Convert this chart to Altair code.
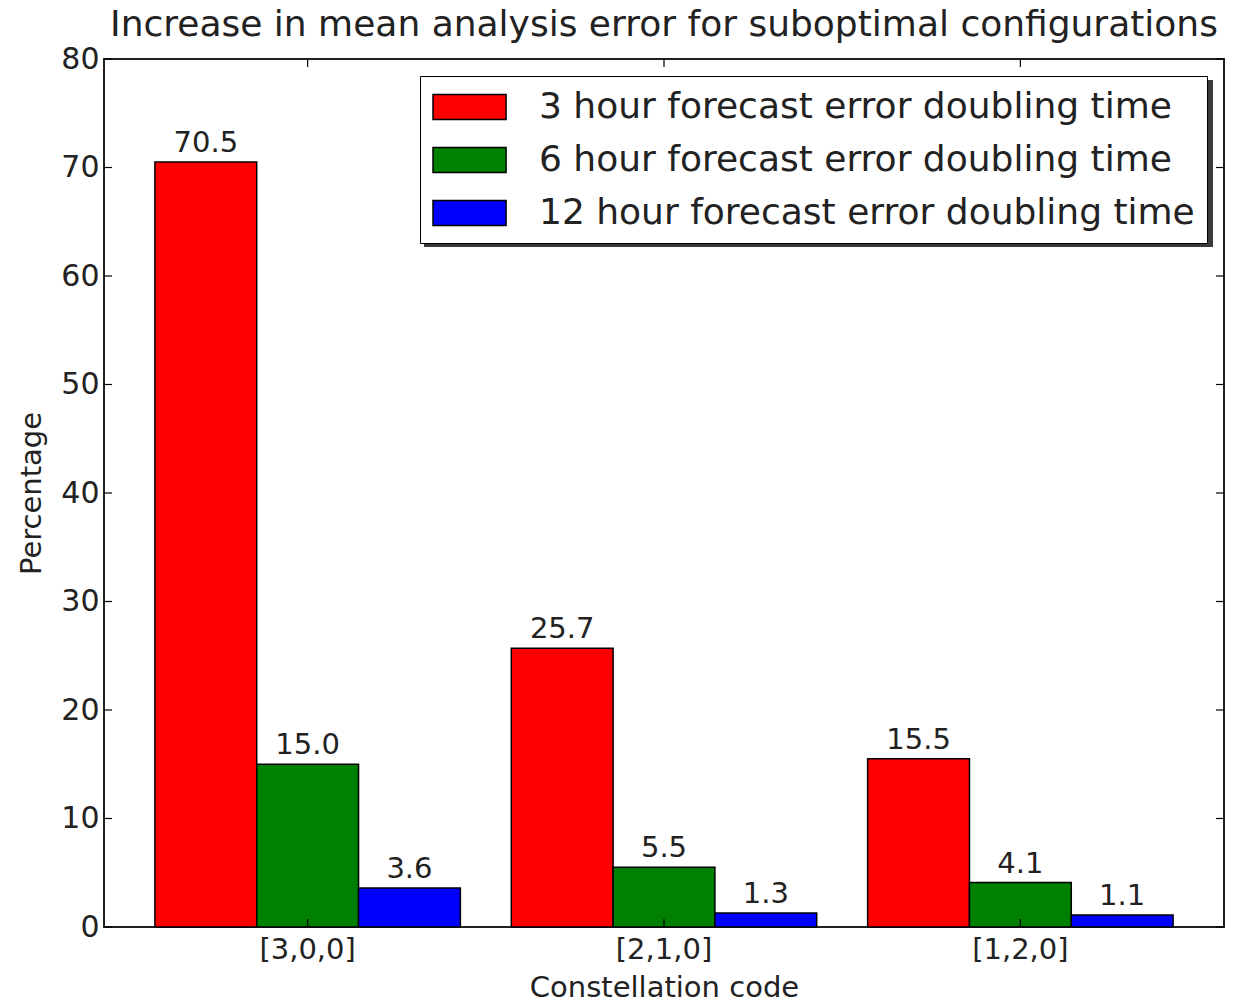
import altair as alt
import pandas as pd

# Constellation codes on the x axis
codes = ["[3,0,0]", "[2,1,0]", "[1,2,0]"]

# Forecast error doubling time series
series = [
    "3 hour forecast error doubling time",
    "6 hour forecast error doubling time",
    "12 hour forecast error doubling time",
]
colors = ["#ff0000", "#008000", "#0000ff"]

# Increase in mean analysis error (%) per constellation code
three_hour = [70.5, 25.7, 15.5]
six_hour = [15.0, 5.5, 4.1]
twelve_hour = [3.6, 1.3, 1.1]

y_ticks = [0, 10, 20, 30, 40, 50, 60, 70, 80]

W, H = 1120, 868
FONT = "DejaVu Sans"
INK = "#222222"
TICK = 8

rows = []
for s, vals in zip(series, [three_hour, six_hour, twelve_hour]):
    for c, v in zip(codes, vals):
        rows.append({"code": c, "series": s, "value": v})
df = pd.DataFrame(rows)
ticks_df = pd.DataFrame({"tick": y_ticks})
codes_df = pd.DataFrame({"code": codes})

x_enc = alt.X(
    "code:N",
    sort=codes,
    scale=alt.Scale(paddingInner=1 / 7, paddingOuter=1 / 7),
    axis=alt.Axis(
        title="Constellation code",
        labelAngle=0,
        labelFontSize=29,
        titleFontSize=29,
        labelFont=FONT,
        titleFont=FONT,
        labelColor=INK,
        titleColor=INK,
        titleFontWeight="normal",
        labelPadding=8,
        titlePadding=9,
        ticks=False,
        domain=False,
    ),
)
xoff_enc = alt.XOffset(
    "series:N", sort=series, scale=alt.Scale(paddingInner=0, paddingOuter=0)
)
y_enc = alt.Y(
    "value:Q",
    scale=alt.Scale(domain=[0, 80], nice=False),
    axis=alt.Axis(
        title="Percentage",
        values=y_ticks,
        labelFontSize=30,
        titleFontSize=29,
        labelFont=FONT,
        titleFont=FONT,
        labelColor=INK,
        titleColor=INK,
        titleFontWeight="normal",
        labelPadding=5,
        titlePadding=14,
        ticks=False,
        domain=False,
        grid=False,
    ),
)

# Wide rectangular swatch; the path starts at x=0 so the swatch grows to the right
SWATCH = "M-1,-0.7L3.06,-0.7L3.06,0.7L-1,0.7Z"

legend = alt.Legend(
    title=None,
    orient="none",
    legendX=316,
    legendY=17,
    labelFontSize=36,
    labelFont=FONT,
    labelColor=INK,
    labelLimit=2000,
    labelOffset=69,
    symbolType=SWATCH,
    symbolSize=1296,
    symbolStrokeColor="black",
    symbolStrokeWidth=1.5,
    symbolOpacity=1,
    rowPadding=16,
    padding=12,
    fillColor="white",
    strokeColor="black",
    cornerRadius=0,
)

color_enc = alt.Color(
    "series:N",
    sort=series,
    scale=alt.Scale(domain=series, range=colors),
    legend=legend,
)

# Drop shadow behind the legend box
shadow = alt.Chart(codes_df.head(1)).mark_rect(color="#3a3a3a").encode(
    x=alt.value(320), x2=alt.value(1109), y=alt.value(21), y2=alt.value(188)
)

bars = alt.Chart(df).mark_bar(stroke="black", strokeWidth=1.5, opacity=1).encode(
    x=x_enc, xOffset=xoff_enc, y=y_enc, color=color_enc
)

labels = alt.Chart(df).mark_text(
    baseline="alphabetic", dy=-10, fontSize=29, font=FONT, color=INK
).encode(
    x=alt.X("code:N", sort=codes),
    xOffset=alt.XOffset("series:N", sort=series),
    y="value:Q",
    text=alt.Text("value:Q", format=".1f"),
)

# Inward tick marks on all four sides of the frame
left_ticks = alt.Chart(ticks_df).mark_rule(color="black", strokeWidth=1.2).encode(
    y="tick:Q", x=alt.value(0), x2=alt.value(TICK)
)
right_ticks = alt.Chart(ticks_df).mark_rule(color="black", strokeWidth=1.2).encode(
    y="tick:Q", x=alt.value(W - TICK), x2=alt.value(W)
)
bottom_ticks = alt.Chart(codes_df).mark_rule(color="black", strokeWidth=1.2).encode(
    x=alt.X("code:N", sort=codes), y=alt.value(H - TICK), y2=alt.value(H)
)
top_ticks = alt.Chart(codes_df).mark_rule(color="black", strokeWidth=1.2).encode(
    x=alt.X("code:N", sort=codes), y=alt.value(0), y2=alt.value(TICK)
)

chart = (
    alt.layer(shadow, bars, labels, left_ticks, right_ticks, bottom_ticks, top_ticks)
    .properties(
        width=W,
        height=H,
        background="white",
        title=alt.TitleParams(
            "Increase in mean analysis error for suboptimal configurations",
            fontSize=36,
            font=FONT,
            fontWeight="normal",
            color=INK,
            anchor="middle",
            offset=0,
        ),
        autosize=alt.AutoSizeParams(type="none"),
        padding={"left": 104, "top": 59, "right": 15, "bottom": 75},
    )
    .configure_view(stroke="#222222", strokeWidth=2)
)

chart.save("out.html", embed_options={"renderer": "svg", "actions": False})
